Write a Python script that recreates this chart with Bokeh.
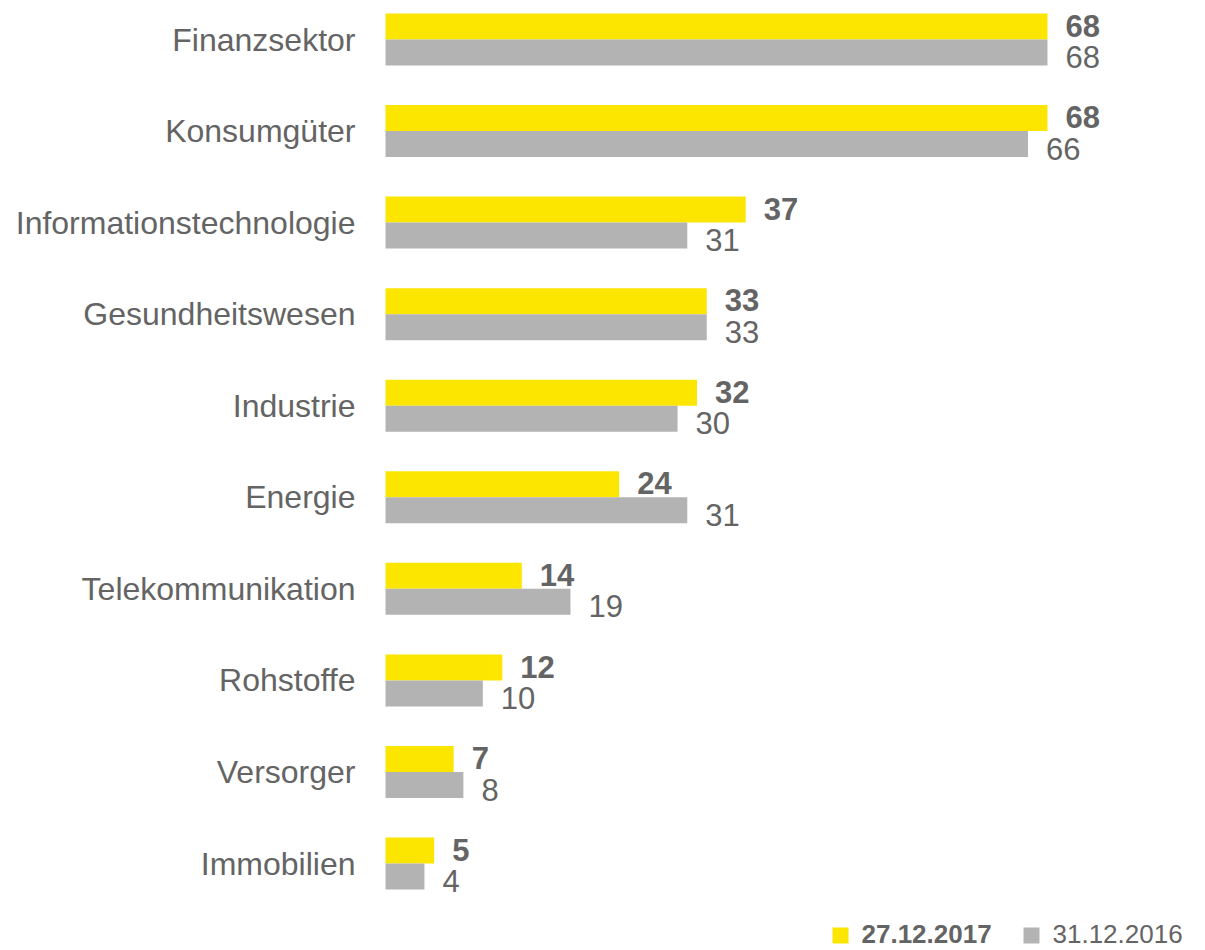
from bokeh.plotting import figure
from bokeh.models import Range1d, ColumnDataSource, Label
from bokeh.core.properties import value
from bokeh.embed import file_html
from bokeh.resources import INLINE

categories = ["Finanzsektor", "Konsumgüter", "Informationstechnologie", "Gesundheitswesen",
              "Industrie", "Energie", "Telekommunikation", "Rohstoffe", "Versorger", "Immobilien"]
values_2017 = [68, 68, 37, 33, 32, 24, 14, 12, 7, 5]
values_2016 = [68, 66, 31, 33, 30, 31, 19, 10, 8, 4]
series_names = ["27.12.2017", "31.12.2016"]

YELLOW = "#FCE600"
GREY = "#B3B3B3"
TEXT = "#646464"
FONT = "Liberation Sans"

W, H = 1200, 950
X0 = 385.0          # pixel of value 0
PX_X = 9.735        # pixels per unit
Y0 = 39.0           # pixel of first row centre
PX_Y = 91.56        # pixels per row
BAR_H = 26.0 / PX_Y

x_range = Range1d(-X0 / PX_X, (W - X0) / PX_X)
y_range = Range1d((H - Y0) / PX_Y, -Y0 / PX_Y)

p = figure(width=W, height=H, x_range=x_range, y_range=y_range,
           output_backend="svg", toolbar_location=None,
           x_axis_type=None, y_axis_type=None,
           min_border=0, min_border_left=0, min_border_right=0,
           min_border_top=0, min_border_bottom=0)
p.outline_line_color = None
p.grid.visible = False
p.background_fill_color = "white"

idx = list(range(len(categories)))
src = ColumnDataSource(dict(
    cat=categories, i=idx,
    y17=[i - BAR_H / 2 for i in idx],
    y16=[i + BAR_H / 2 for i in idx],
    ly17=[i - BAR_H / 2 - 0.01 for i in idx],
    ly16=[i + BAR_H / 2 + 0.05 for i in idx],
    v17=values_2017, v16=values_2016,
    t17=[str(v) for v in values_2017], t16=[str(v) for v in values_2016],
    zero=[0] * len(idx),
))

p.hbar(y="y17", left=0, right="v17", height=BAR_H, source=src,
       fill_color=YELLOW, line_color=None)
p.hbar(y="y16", left=0, right="v16", height=BAR_H, source=src,
       fill_color=GREY, line_color=None)

p.text(x="zero", y="i", text="cat", source=src, x_offset=-30,
       text_align="right", text_baseline="middle",
       text_font=value(FONT), text_font_size="32px", text_color=TEXT)

p.text(x="v17", y="ly17", text="t17", source=src, x_offset=18,
       text_align="left", text_baseline="middle",
       text_font=value(FONT), text_font_size="31px", text_font_style="bold",
       text_color=TEXT)
p.text(x="v16", y="ly16", text="t16", source=src, x_offset=18,
       text_align="left", text_baseline="middle",
       text_font=value(FONT), text_font_size="31px", text_color=TEXT)

# legend (screen-positioned)
def dx(px):
    return (px - X0) / PX_X

def dy(py):
    return (py - Y0) / PX_Y

leg_y = 933
p.scatter(x=[dx(840), dx(1031)], y=[dy(leg_y + 2), dy(leg_y + 2)], marker="square",
          size=16, fill_color=[YELLOW, GREY], line_color=None)
p.add_layout(Label(x=861, y=H - leg_y, x_units="screen", y_units="screen",
                   text=series_names[0], text_font=FONT, text_font_size="26px",
                   text_font_style="bold", text_color=TEXT,
                   text_baseline="middle", text_align="left"))
p.add_layout(Label(x=1052, y=H - leg_y, x_units="screen", y_units="screen",
                   text=series_names[1], text_font=FONT, text_font_size="26px",
                   text_color=TEXT, text_baseline="middle", text_align="left"))

open("out.html", "w").write(file_html(p, INLINE))
